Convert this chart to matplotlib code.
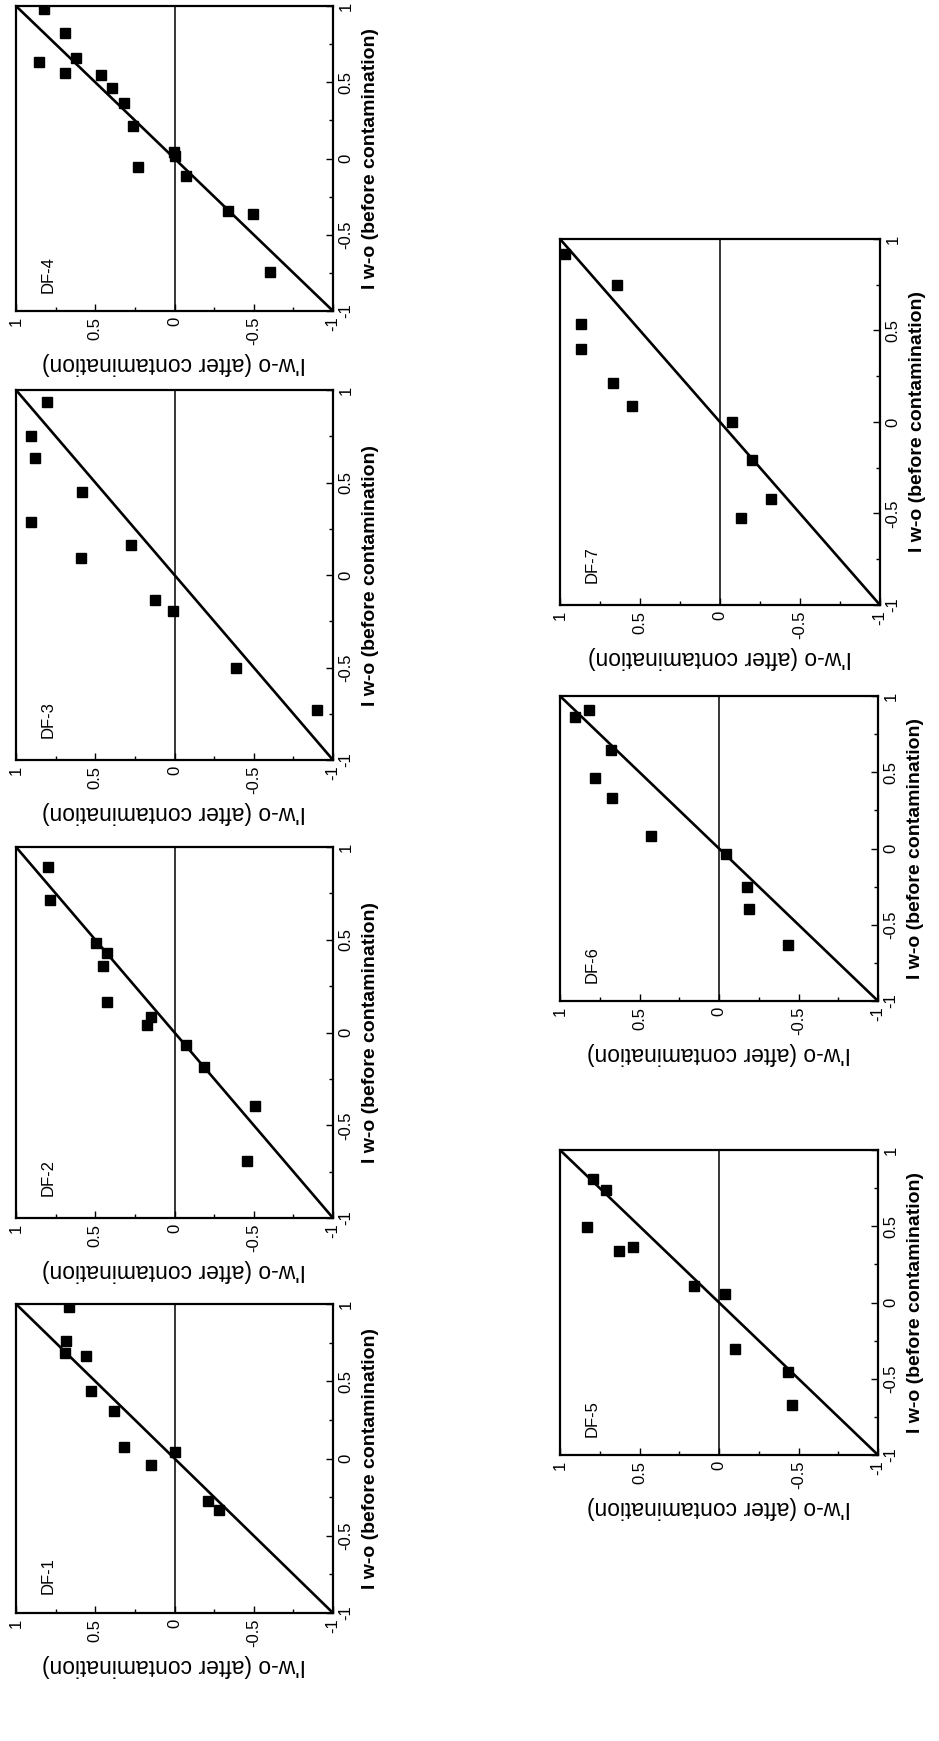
import matplotlib
matplotlib.use("Agg")
import matplotlib.pyplot as plt
from matplotlib.ticker import FixedLocator, FixedFormatter

plt.rcParams['font.family'] = ['Liberation Sans', 'DejaVu Sans']
plt.rcParams['axes.unicode_minus'] = False

# I w-o before contamination (vertical in the rotated page) / I'w-o after (horizontal)
df1_before = [0.978, 0.763, 0.683, 0.666, 0.440, 0.306, 0.073, -0.045, 0.041, -0.272, -0.332]
df1_after = [0.665, 0.682, 0.692, 0.556, 0.527, 0.380, 0.318, 0.149, 0.0, -0.211, -0.281]

df2_before = [0.893, 0.715, 0.485, 0.429, 0.361, 0.167, 0.082, 0.043, -0.069, -0.187, -0.395, -0.693]
df2_after = [0.796, 0.786, 0.494, 0.424, 0.452, 0.424, 0.151, 0.172, -0.074, -0.185, -0.506, -0.458]

df3_before = [0.935, 0.750, 0.630, 0.446, 0.289, 0.092, 0.162, -0.134, -0.197, -0.500, -0.730]
df3_after = [0.807, 0.903, 0.880, 0.582, 0.903, 0.590, 0.277, 0.126, 0.011, -0.391, -0.899]

df4_before = [0.978, 0.821, 0.631, 0.657, 0.563, 0.548, 0.460, 0.362, 0.215, -0.054,
              0.040, 0.015, -0.113, -0.342, -0.366, -0.742]
df4_after = [0.821, 0.691, 0.853, 0.623, 0.691, 0.463, 0.396, 0.316, 0.263, 0.229,
             0.006, -0.004, -0.072, -0.337, -0.495, -0.604]

df5_before = [0.812, 0.736, 0.494, 0.335, 0.364, 0.108, 0.058, -0.303, -0.455, -0.675]
df5_after = [0.792, 0.708, 0.833, 0.629, 0.542, 0.156, -0.038, -0.098, -0.437, -0.458]

df6_before = [0.860, 0.908, 0.646, 0.460, 0.328, 0.081, -0.037, -0.252, -0.398, -0.635]
df6_after = [0.904, 0.817, 0.681, 0.781, 0.671, 0.427, -0.046, -0.174, -0.189, -0.437]

df7_before = [0.920, 0.748, 0.538, 0.398, 0.211, 0.086, 0.002, -0.209, -0.419, -0.527]
df7_after = [0.969, 0.645, 0.866, 0.866, 0.670, 0.551, -0.074, -0.200, -0.320, -0.134]

names = ["DF-1", "DF-2", "DF-3", "DF-4", "DF-5", "DF-6", "DF-7"]
ticks = [-1, -0.5, 0, 0.5, 1]
tick_labels = ["-1", "-0.5", "0", "0.5", "1"]

# panel boxes in pixels of the rotated page: left, top, right, bottom
boxes = {
    "DF-4": (16, 6, 333, 311),
    "DF-3": (16, 390, 333, 760),
    "DF-2": (16, 847, 333, 1218),
    "DF-1": (16, 1304, 333, 1613),
    "DF-7": (560, 239, 880, 605),
    "DF-6": (560, 696, 878, 1001),
    "DF-5": (560, 1150, 878, 1455),
}

data = {
    "DF-1": (df1_after, df1_before),
    "DF-2": (df2_after, df2_before),
    "DF-3": (df3_after, df3_before),
    "DF-4": (df4_after, df4_before),
    "DF-5": (df5_after, df5_before),
    "DF-6": (df6_after, df6_before),
    "DF-7": (df7_after, df7_before),
}

W, H = 939, 1741
fig = plt.figure(figsize=(W / 100, H / 100), dpi=100)

for name in names:
    l, t, r, b = boxes[name]
    ax = fig.add_axes([l / W, 1 - b / H, (r - l) / W, (b - t) / H])
    after, before = data[name]

    ax.plot([1, -1], [1, -1], color='black', lw=1.9, zorder=2)
    ax.axvline(0, color='black', lw=1.1, zorder=1)
    ax.plot(after, before, 's', color='black', markersize=7.3, zorder=3)

    ax.set_xlim(1, -1)
    ax.set_ylim(-1, 1)

    for sp in ax.spines.values():
        sp.set_linewidth(1.6)

    ax.xaxis.set_major_locator(FixedLocator(ticks))
    ax.xaxis.set_major_formatter(FixedFormatter(tick_labels))
    ax.yaxis.set_major_locator(FixedLocator(ticks))
    ax.yaxis.set_major_formatter(FixedFormatter(tick_labels))
    ax.xaxis.set_minor_locator(FixedLocator([-0.75, -0.25, 0.25, 0.75]))
    ax.yaxis.set_minor_locator(FixedLocator([-0.75, -0.25, 0.25, 0.75]))
    ax.yaxis.tick_right()
    ax.tick_params(which='both', direction='in', top=False, left=False,
                   right=True, bottom=True, width=1.0)
    ax.tick_params(which='major', length=5, labelsize=12, pad=4)
    ax.tick_params(which='minor', length=3)
    for lab in ax.get_xticklabels():
        lab.set_rotation(90)
        lab.set_va('top')
        lab.set_ha('center')
    for lab in ax.get_yticklabels():
        lab.set_rotation(90)
        lab.set_va('center')

    ax.set_xlabel("I'w-o (after contamination)", rotation=180, fontsize=16.5, labelpad=5)
    ax.yaxis.set_label_position('right')
    ax.set_ylabel("I w-o (before contamination)", rotation=90, fontsize=14,
                  fontweight='bold', labelpad=6)

    ax.text(0.1, 0.06, name, rotation=90, transform=ax.transAxes,
            ha='center', va='bottom', fontsize=12)

fig.savefig("out.png", dpi=100, facecolor='white')
